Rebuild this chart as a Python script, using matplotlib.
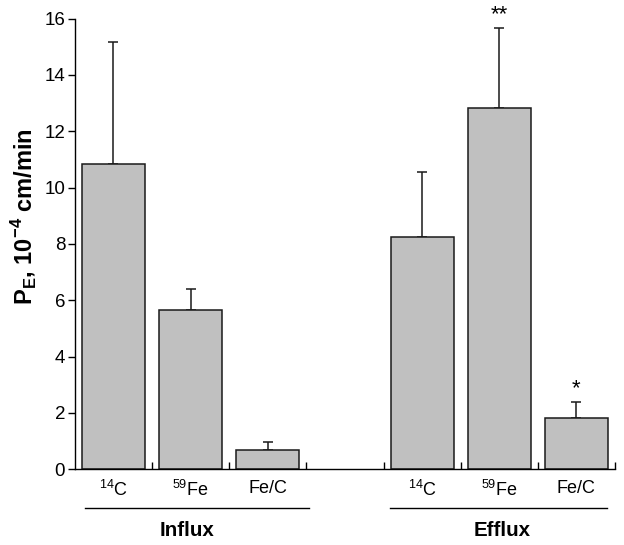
import matplotlib
matplotlib.use("Agg")
import matplotlib.pyplot as plt
import matplotlib.transforms as mtransforms
import numpy as np

plt.rcParams['font.family'] = ['Liberation Sans', 'DejaVu Sans']
plt.rcParams['mathtext.fontset'] = 'custom'
plt.rcParams['mathtext.rm'] = 'Liberation Sans'
plt.rcParams['mathtext.bf'] = 'Liberation Sans:bold'

# values
categories = [r'$^{14}$C', r'$^{59}$Fe', 'Fe/C']
groups = ['Influx', 'Efflux']
influx_means = [10.85, 5.64, 0.69]
influx_err = [4.31, 0.75, 0.27]
efflux_means = [8.24, 12.82, 1.83]
efflux_err = [2.30, 2.84, 0.57]
efflux_sig = ['', '**', '*']

fig = plt.figure(figsize=(6.24, 5.45), dpi=100)
ax = fig.add_axes([0.120, 0.139, 0.8656, 0.827])

influx_x = np.arange(3)
efflux_x = np.arange(3) + 4
width = 0.815

for xs, means, errs in [(influx_x, influx_means, influx_err), (efflux_x, efflux_means, efflux_err)]:
    ax.bar(xs, means, width=width, color='#c0c0c0', edgecolor='#1a1a1a', linewidth=1.1, zorder=2)
    ax.errorbar(xs, means, yerr=[np.zeros(3), errs], fmt='none', ecolor='#1a1a1a',
                elinewidth=1.1, capsize=3.5, capthick=1.1, zorder=1)

# significance marks
for x, m, e, s in zip(efflux_x, efflux_means, efflux_err, efflux_sig):
    if s:
        ax.text(x, m + e + 0.47, s, ha='center', va='center', fontsize=16, clip_on=False)

ax.set_xlim(-0.5, 6.5)
ax.set_ylim(0, 16)
ax.set_yticks(np.arange(0, 17, 2))
ax.tick_params(axis='y', direction='out', length=5, width=1, labelsize=13.5, pad=2)

# boundary ticks on the baseline, labels under bar centres
ax.set_xticks([0.5, 1.5, 2.5, 3.5, 4.5, 5.5, 6.5])
ax.set_xticklabels([])
ax.tick_params(axis='x', which='major', direction='in', length=5, width=1)
ax.set_xticks(list(influx_x) + list(efflux_x), minor=True)
ax.set_xticklabels(categories + categories, minor=True)
ax.tick_params(axis='x', which='minor', length=0, labelsize=13, pad=8)

for side in ['top', 'right']:
    ax.spines[side].set_visible(False)
ax.spines['left'].set_linewidth(1)
ax.spines['bottom'].set_linewidth(1)

ax.set_ylabel(r'P$_{\mathbf{E}}$, 10$^{\mathbf{-4}}$ cm/min', fontsize=17, fontweight='bold')
ax.yaxis.set_label_coords(-0.064, 0.56)

# group lines and labels
trans = mtransforms.blended_transform_factory(ax.transData, ax.transAxes)
line_spans = [(-0.37, 2.53), (3.59, 6.39)]
label_x = [0.95, 5.04]
for name, (x0, x1), lx in zip(groups, line_spans, label_x):
    ax.plot([x0, x1], [-0.086, -0.086], color='black', linewidth=1,
            transform=trans, clip_on=False)
    ax.text(lx, -0.135, name, ha='center', va='center', fontsize=14.8,
            fontweight='bold', transform=trans)

fig.savefig('out.png', dpi=100)
